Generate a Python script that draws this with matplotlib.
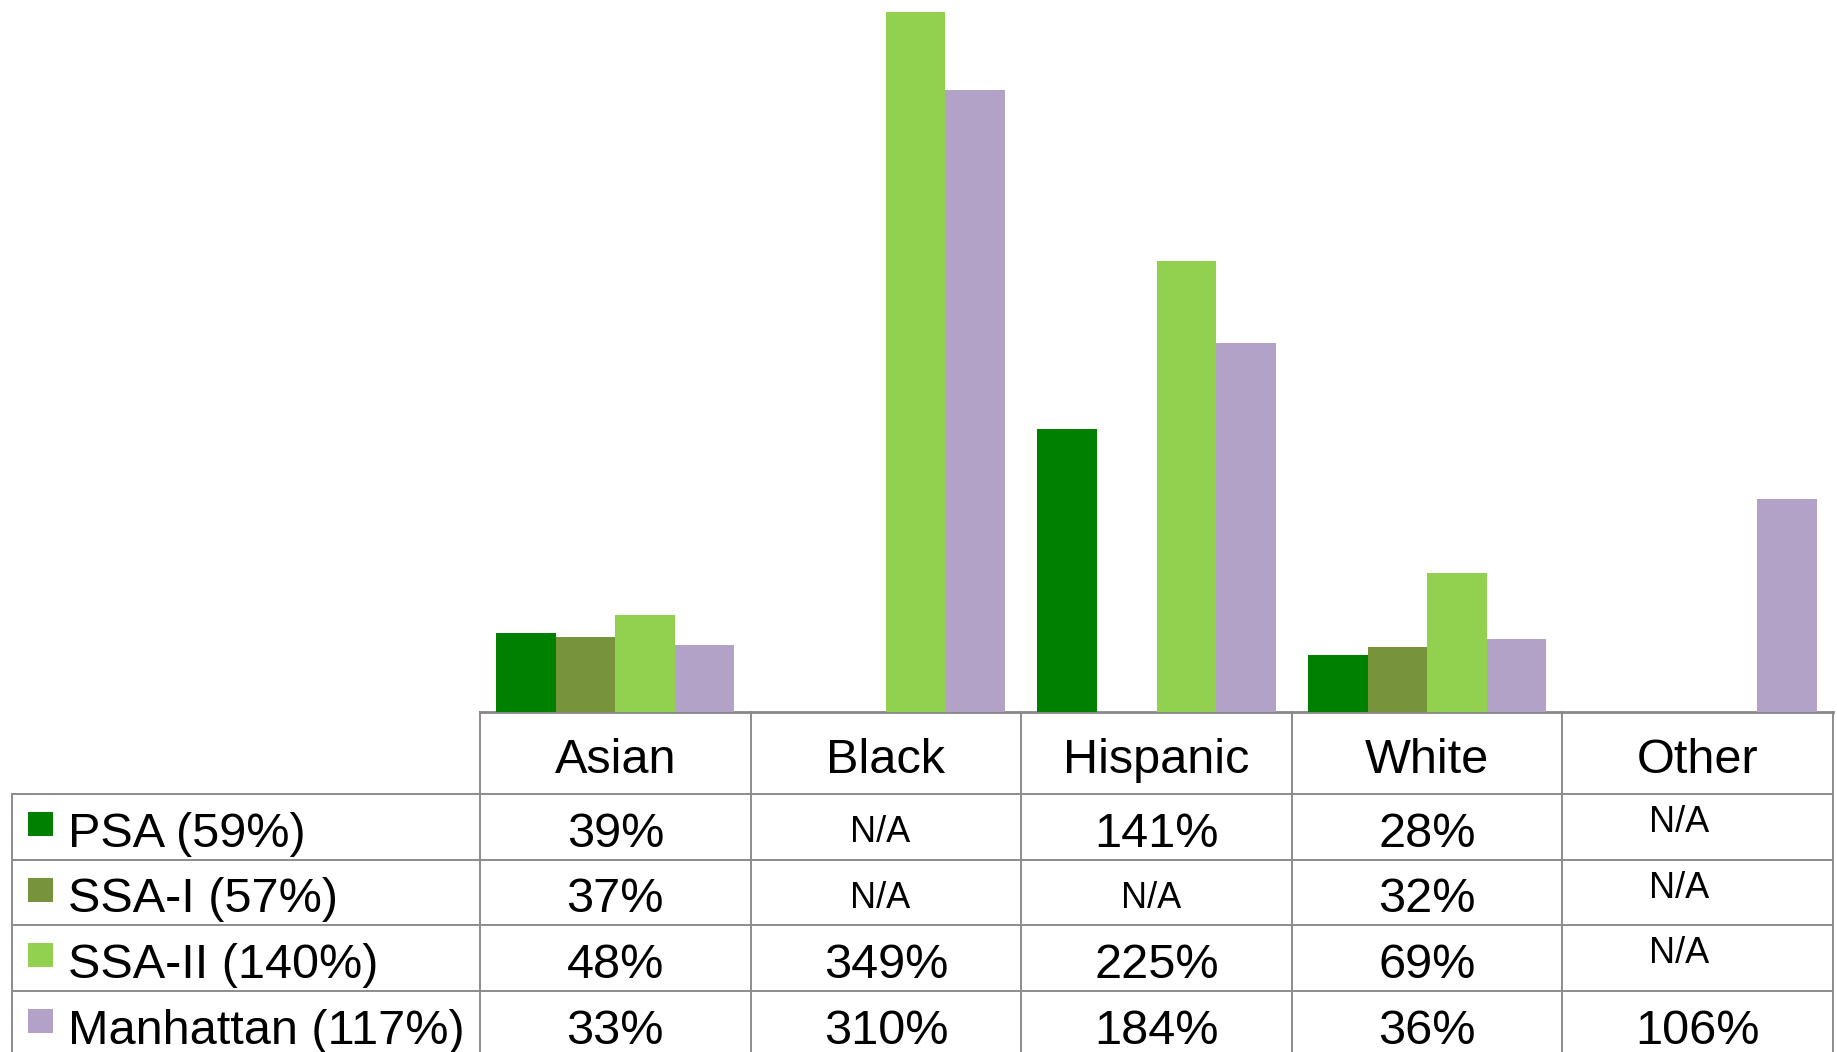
import numpy as np
import matplotlib
matplotlib.use("Agg")
import matplotlib.pyplot as plt
from matplotlib.transforms import blended_transform_factory

# ---- data ----
categories = ["Asian", "Black", "Hispanic", "White", "Other"]
series_names = ["PSA (59%)", "SSA-I (57%)", "SSA-II (140%)", "Manhattan (117%)"]
psa = [39, None, 141, 28, None]
ssa_i = [37, None, None, 32, None]
ssa_ii = [48, 349, 225, 69, None]
manhattan = [33, 310, 184, 36, 106]
series_values = [psa, ssa_i, ssa_ii, manhattan]
colors = ["#008000", "#77933C", "#92D050", "#B3A2C7"]

plt.rcParams["font.family"] = ["Liberation Sans", "DejaVu Sans"]

W, H = 1837, 1052
DPI = 100
fig = plt.figure(figsize=(W / DPI, H / DPI), dpi=DPI)

# table axes in pixel coordinates (y downward)
tax = fig.add_axes([0, 0, 1, 1])
tax.set_xlim(0, W)
tax.set_ylim(H, 0)
tax.axis("off")

# bar axes
base_y = 711.5
left_px, right_px = 480, 1833
ax = fig.add_axes([left_px / W, (H - base_y) / H, (right_px - left_px) / W, base_y / H])
ax.set_facecolor("none")
ax.set_xlim(-0.5, len(categories) - 0.5)
ax.set_ylim(0, 355)
for s in ["top", "left", "right"]:
    ax.spines[s].set_visible(False)
ax.spines["bottom"].set_color("#888888")
ax.spines["bottom"].set_linewidth(2.0)
ax.set_xticks([])
ax.set_yticks([])

bw = 0.22
for k, (vals, c) in enumerate(zip(series_values, colors)):
    for i, v in enumerate(vals):
        if v is None:
            continue
        ax.bar(i + (k - 1.5) * bw, v, width=bw, color=c, edgecolor="none", zorder=3)

# ---- table ----
line_c = "#8c8c8c"
lw = 1.4
trans = blended_transform_factory(ax.transData, tax.transData)
row_edges = [794, 860, 925, 991, H + 10]
header_top = base_y

# horizontal lines
for y in row_edges[:-1]:
    tax.plot([12, right_px], [y, y], color=line_c, lw=lw, solid_capstyle="butt")
# vertical lines at category boundaries
for j in range(len(categories) + 1):
    tax.plot([j - 0.5, j - 0.5], [header_top, H], color=line_c, lw=lw, transform=trans)
# legend column left border
tax.plot([12, 12], [row_edges[0], H], color=line_c, lw=lw)

fs = 35
fs_na = 26
# header
hc = (header_top + row_edges[0]) / 2
for j, cat in enumerate(categories):
    tax.text(j, hc + 20, cat, transform=trans, ha="center", va="baseline", fontsize=fs)

# rows
for r, (name, vals, c) in enumerate(zip(series_names, series_values, colors)):
    top = row_edges[r]
    bot = min(row_edges[r + 1], 1057)
    rc = (top + bot) / 2
    tax.add_patch(plt.Rectangle((28, rc - 15), 25, 24, color=c, lw=0))
    tax.text(68, rc + 20, name, ha="left", va="baseline", fontsize=fs)
    for j, v in enumerate(vals):
        if v is None:
            if categories[j] == "Other":
                tax.text(j - 0.07, rc + 5, "N/A", transform=trans, ha="center",
                         va="baseline", fontsize=fs_na)
            else:
                tax.text(j - 0.02, rc + 15, "N/A", transform=trans, ha="center",
                         va="baseline", fontsize=fs_na)
        else:
            tax.text(j, rc + 20, f"{v}%", transform=trans, ha="center",
                     va="baseline", fontsize=fs)

fig.savefig("out.png", dpi=DPI)
